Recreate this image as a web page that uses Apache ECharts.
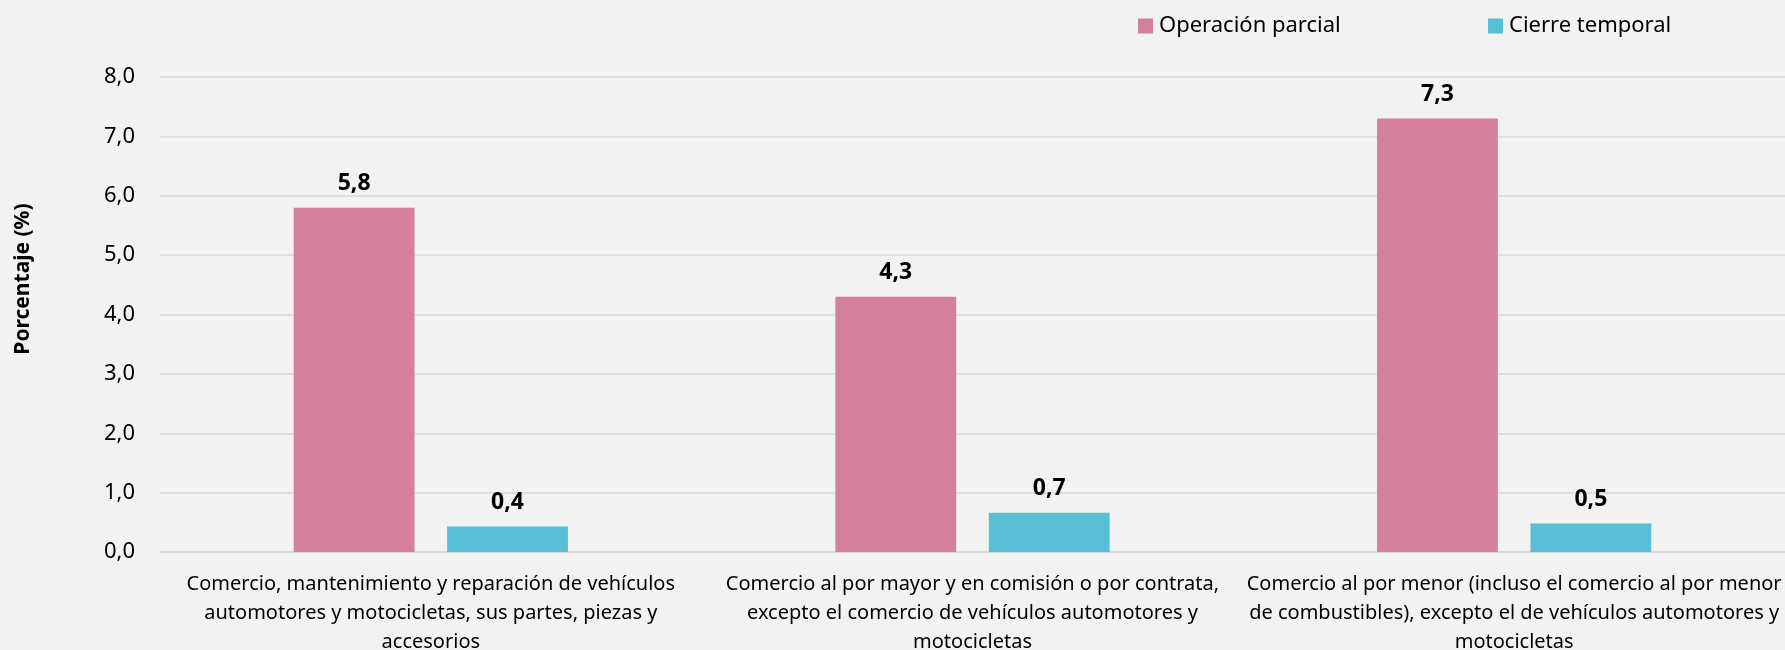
<!DOCTYPE html>
<html>
<head>
<meta charset="utf-8">
<script src="https://cdn.jsdelivr.net/npm/echarts@6/dist/echarts.min.js"></script>
<style>
    html, body { margin: 0; padding: 0; background: #f2f2f2; }
    #chart { width: 1785px; height: 650px; }
</style>
</head>
<body>
<div id="chart"></div>
<script>
    const categories = [
        'Comercio, mantenimiento y reparación de vehículos\nautomotores y motocicletas, sus partes, piezas y\naccesorios',
        'Comercio al por mayor y en comisión o por contrata,\nexcepto el comercio de vehículos automotores y\nmotocicletas',
        'Comercio al por menor (incluso el comercio al por menor\nde combustibles), excepto el de vehículos automotores y\nmotocicletas'
    ]
    const operacionParcial = [5.8, 4.3, 7.3]
    const cierreTemporal = [0.43, 0.66, 0.48]
    const yTicks = [0, 1, 2, 3, 4, 5, 6, 7, 8]

    const font = '"Noto Sans", "Open Sans", sans-serif'
    const fmt = v => v.toFixed(1).replace('.', ',')

    const chart = echarts.init(document.getElementById('chart'))

    const labelStyle = {
        show: true,
        position: 'top',
        distance: 13,
        fontFamily: font,
        fontSize: 23,
        fontWeight: 'bold',
        color: '#000',
        formatter: p => fmt(p.value)
    }

    const legendBase = {
        top: 10,
        itemWidth: 15,
        itemHeight: 15,
        icon: 'rect',
        textStyle: { fontFamily: font, fontSize: 22, color: '#000', padding: [0, 0, 0, 1] }
    }

    const option = {
        backgroundColor: '#f2f2f2',
        textStyle: { fontFamily: font },
        legend: [
            Object.assign({ left: 1133, data: ['Operación parcial'] }, legendBase),
            Object.assign({ left: 1483, data: ['Cierre temporal'] }, legendBase)
        ],
        graphic: [{
            type: 'text',
            x: 23,
            y: 279,
            rotation: Math.PI / 2,
            style: {
                text: 'Porcentaje (%)',
                fontFamily: font,
                fontSize: 21,
                fontWeight: 'bold',
                fill: '#000',
                align: 'center',
                verticalAlign: 'middle'
            }
        }],
        grid: {
            left: 160,
            right: 0,
            top: 77,
            bottom: 98,
            containLabel: false,
            outerBoundsMode: 'none'
        },
        xAxis: {
            type: 'category',
            data: categories,
            axisLine: { lineStyle: { color: '#d9d9d9', width: 1.5 } },
            axisTick: { show: false },
            axisLabel: {
                fontFamily: font,
                fontSize: 20,
                color: '#000',
                lineHeight: 29,
                margin: 18,
                interval: 0
            }
        },
        yAxis: {
            type: 'value',
            min: yTicks[0],
            max: yTicks[yTicks.length - 1],
            interval: 1,
            axisLine: { show: false },
            axisTick: { show: false },
            splitLine: { lineStyle: { color: '#d9d9d9', width: 1.5 } },
            axisLabel: {
                fontFamily: font,
                fontSize: 22,
                color: '#000',
                margin: 25,
                formatter: v => fmt(v)
            }
        },
        series: [
            {
                name: 'Operación parcial',
                type: 'bar',
                barWidth: '22.3%',
                barGap: '27%',
                itemStyle: { color: '#d4809a' },
                label: labelStyle,
                data: operacionParcial
            },
            {
                name: 'Cierre temporal',
                type: 'bar',
                barWidth: '22.3%',
                barGap: '27%',
                itemStyle: { color: '#57bfd6' },
                label: labelStyle,
                data: cierreTemporal
            }
        ]
    }

    chart.setOption(option)
</script>
</body>
</html>
